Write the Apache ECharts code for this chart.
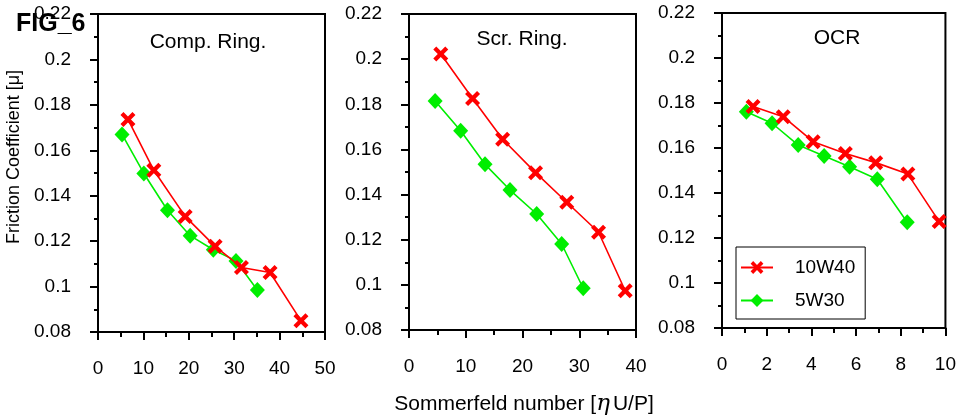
<!DOCTYPE html>
<html>
<head>
<meta charset="utf-8">
<script src="https://cdn.jsdelivr.net/npm/echarts@6/dist/echarts.min.js"></script>
<style>
  body { margin: 0; background: #fff; }
  #grafico { width: 959px; height: 420px; }
</style>
</head>
<body>
<div id="grafico"></div>
<script>
// Datos
const panelTitles = ['Comp. Ring.', 'Scr. Ring.', 'OCR'];
const seriesNames = ['10W40', '5W30'];
const xMax = [50, 40, 10];
const xInterval = [10, 10, 2];
const yTicks = [0.08, 0.1, 0.12, 0.14, 0.16, 0.18, 0.2, 0.22];

// Comp. Ring.
const compX10W40 = [6.6, 12.3, 19.2, 25.8, 31.6, 37.9, 44.7];
const compY10W40 = [0.1736, 0.1512, 0.1309, 0.1177, 0.1084, 0.1062, 0.085];
const compX5W30 = [5.3, 10.1, 15.3, 20.3, 25.4, 30.4, 35.1];
const compY5W30 = [0.167, 0.1498, 0.1336, 0.1224, 0.1162, 0.1113, 0.0985];

// Scr. Ring.
const scrX10W40 = [5.6, 11.2, 16.5, 22.3, 27.8, 33.4, 38.1];
const scrY10W40 = [0.2023, 0.1826, 0.1645, 0.1497, 0.1366, 0.1233, 0.0974];
const scrX5W30 = [4.6, 9.1, 13.4, 17.8, 22.5, 26.9, 30.7];
const scrY5W30 = [0.1815, 0.1683, 0.1534, 0.142, 0.1314, 0.1181, 0.0985];

// OCR
const ocrX10W40 = [1.39, 2.74, 4.08, 5.52, 6.88, 8.32, 9.72];
const ocrY10W40 = [0.1784, 0.1739, 0.1628, 0.1576, 0.1535, 0.1484, 0.1273];
const ocrX5W30 = [1.09, 2.24, 3.41, 4.57, 5.71, 6.95, 8.29];
const ocrY5W30 = [0.1761, 0.171, 0.1613, 0.1564, 0.1517, 0.1461, 0.127];

const rojo = '#ff0000';
const verde = '#00ee00';
const fuente = "'Liberation Sans', Arial, sans-serif";
// cruz rellena (la X del marcador)
const simboloX = 'path://M0,2 L2,0 L5,3 L8,0 L10,2 L7,5 L10,8 L8,10 L5,7 L2,10 L0,8 L3,5 Z';

const datos = [
  [[compX10W40, compY10W40], [compX5W30, compY5W30]],
  [[scrX10W40, scrY10W40], [scrX5W30, scrY5W30]],
  [[ocrX10W40, ocrY10W40], [ocrX5W30, ocrY5W30]]
];

const grids = [
  { left: 98, top: 14, width: 227, height: 318 },
  { left: 409, top: 14, width: 227, height: 316 },
  { left: 722, top: 13, width: 226, height: 315 }
].map(g => Object.assign(g, { show: true, borderColor: '#000', borderWidth: 2, backgroundColor: 'transparent' }));

const xAxes = xMax.map((mx, i) => ({
  type: 'value',
  gridIndex: i,
  min: 0,
  max: mx,
  interval: xInterval[i],
  axisLine: { show: true, lineStyle: { color: '#000', width: 2 } },
  axisTick: { show: true, length: 8, lineStyle: { color: '#000', width: 2 } },
  minorTick: { show: true, splitNumber: 2, length: 5, lineStyle: { color: '#000', width: 2 } },
  splitLine: { show: false },
  axisLabel: { color: '#000', fontSize: 19, fontFamily: fuente, margin: 27, showMaxLabel: true }
}));

const yAxes = xMax.map((mx, i) => ({
  type: 'value',
  gridIndex: i,
  min: yTicks[0],
  max: yTicks[yTicks.length - 1],
  interval: 0.02,
  axisLine: { show: true, lineStyle: { color: '#000', width: 2 } },
  axisTick: { show: true, length: 8, lineStyle: { color: '#000', width: 2 } },
  minorTick: { show: true, splitNumber: 2, length: 4, lineStyle: { color: '#000', width: 2 } },
  splitLine: { show: false },
  axisLabel: {
    color: '#000', fontSize: 19, fontFamily: fuente, margin: 27,
    showMaxLabel: true,
    formatter: v => String(parseFloat(v.toFixed(2)))
  }
}));

const series = [];
datos.forEach((panel, i) => {
  panel.forEach((par, j) => {
    const color = j === 0 ? rojo : verde;
    series.push({
      name: seriesNames[j],
      type: 'line',
      xAxisIndex: i,
      yAxisIndex: i,
      data: par[0].map((x, k) => [x, par[1][k]]),
      symbol: j === 0 ? simboloX : 'diamond',
      symbolSize: j === 0 ? 15 : [15, 16],
      showAllSymbol: true,
      lineStyle: { color: color, width: 1.6 },
      itemStyle: { color: color },
      z: j === 0 ? 3 : 2,
      animation: false
    });
  });
});

const titulos = [
  { text: 'FIG_6', left: 11, top: 7, textStyle: { fontSize: 25, fontWeight: 'bold', color: '#000', fontFamily: fuente } }
];
const centrosTitulo = [[208, 41], [522, 38], [837, 37]];
panelTitles.forEach((t, i) => {
  titulos.push({
    text: t,
    left: centrosTitulo[i][0] - 5,
    top: centrosTitulo[i][1] - 14,
    textAlign: 'center',
    textStyle: { fontSize: 21, fontWeight: 'normal', color: '#000', fontFamily: fuente }
  });
});

const myChart = echarts.init(document.getElementById('grafico'));
myChart.setOption({
  animation: false,
  title: titulos,
  grid: grids,
  xAxis: xAxes,
  yAxis: yAxes,
  legend: {
    data: seriesNames,
    orient: 'vertical',
    left: 736,
    top: 247,
    padding: [11, 10, 9, 4],
    itemGap: 14,
    itemWidth: 32,
    itemHeight: 16,
    backgroundColor: '#fff',
    borderColor: '#000',
    borderWidth: 1,
    textStyle: { fontSize: 19, color: '#000', fontFamily: fuente, padding: [0, 0, 0, 17] }
  },
  graphic: [
    {
      type: 'text',
      x: 14,
      y: 157,
      rotation: Math.PI / 2,
      style: {
        text: 'Friction Coefficient [μ]',
        fontSize: 18,
        fontFamily: fuente,
        fill: '#000',
        align: 'center',
        verticalAlign: 'middle'
      }
    },
    {
      type: 'text',
      x: 524,
      y: 404,
      style: {
        text: 'Sommerfeld number [{e|η}U/P]',
        fontSize: 21,
        fontFamily: fuente,
        fill: '#000',
        align: 'center',
        verticalAlign: 'middle',
        rich: {
          e: { fontSize: 23, fontStyle: 'italic', fontFamily: "'DejaVu Serif', serif", padding: [0, 3, 0, 0] }
        }
      }
    }
  ],
  series: series
});
</script>
</body>
</html>
